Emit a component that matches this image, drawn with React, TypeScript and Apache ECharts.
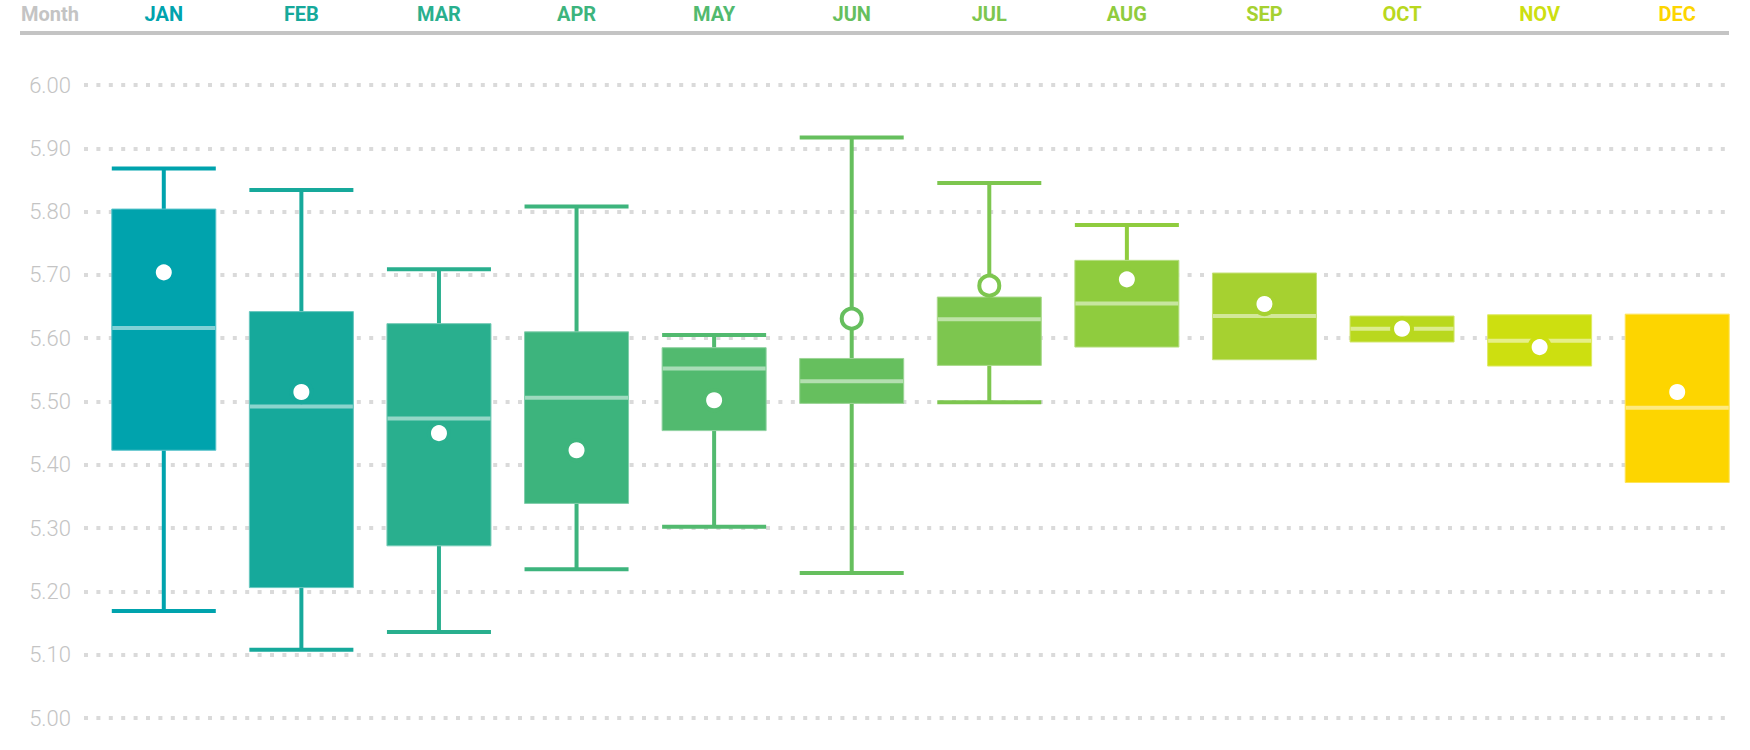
import React, { useEffect, useRef } from "react";
import * as echarts from "echarts";

const months = ["JAN", "FEB", "MAR", "APR", "MAY", "JUN", "JUL", "AUG", "SEP", "OCT", "NOV", "DEC"];
const whiskerLow = [5.169, 5.108, 5.136, 5.235, 5.302, 5.229, 5.499, 5.586, 5.566, 5.594, 5.556, 5.372];
const q1 = [5.423, 5.206, 5.272, 5.339, 5.454, 5.497, 5.557, 5.586, 5.566, 5.594, 5.556, 5.372];
const median = [5.616, 5.492, 5.473, 5.506, 5.552, 5.532, 5.630, 5.655, 5.635, 5.615, 5.596, 5.490];
const q3 = [5.804, 5.642, 5.623, 5.610, 5.585, 5.568, 5.665, 5.723, 5.703, 5.635, 5.637, 5.638];
const whiskerHigh = [5.868, 5.834, 5.709, 5.808, 5.605, 5.917, 5.845, 5.779, 5.703, 5.635, 5.637, 5.638];
const mean = [5.704, 5.515, 5.450, 5.423, 5.502, 5.631, 5.683, 5.693, 5.654, 5.615, 5.586, 5.515];
const yTicks = { min: 5, max: 6, interval: 0.1 };
const colors = [
  "#00A3AD", "#16A99B", "#29AF8E", "#3DB47D", "#52BA6F", "#66BF5E",
  "#7DC64F", "#8FCC3E", "#A6D130", "#B9D81E", "#CDDF10", "#FDD500",
];

function mix(hex: string, t: number): string {
  const n = parseInt(hex.slice(1), 16);
  const r = (n >> 16) & 255, g = (n >> 8) & 255, b = n & 255;
  const f = (c: number) => Math.round(c + (255 - c) * t);
  return `rgb(${f(r)},${f(g)},${f(b)})`;
}

export default function App() {
  const ref = useRef<HTMLDivElement>(null);
  useEffect(() => {
    if (!ref.current) return;
    const chart = echarts.init(ref.current, null, { renderer: "svg" });
    const boxData = months.map((_, i) => [i, whiskerLow[i], q1[i], median[i], q3[i], whiskerHigh[i]]);
    const meanData = months.map((_, i) => ({
      value: [i, mean[i]],
      itemStyle: { color: "#ffffff", borderColor: colors[i], borderWidth: 4, opacity: 1 },
    }));
    const option: any = {
      animation: false,
      backgroundColor: "#ffffff",
      grid: [
        { left: 95, right: 4, top: 85, bottom: 32 },
        { left: 84, right: 21, top: 85, bottom: 32 },
      ],
      xAxis: [
        {
          gridIndex: 0,
          type: "category",
          data: months,
          position: "top",
          boundaryGap: true,
          axisLine: { show: false },
          axisTick: { show: false },
          splitLine: { show: false },
          axisLabel: {
            margin: 71,
            verticalAlign: "middle",
            fontFamily: "Roboto",
            fontWeight: "bold",
            fontSize: 20,
            color: (_v: any, i: number) => colors[i],
          },
        },
        { gridIndex: 1, type: "value", show: false, min: 0, max: 1 },
      ],
      yAxis: [
        { gridIndex: 0, type: "value", min: yTicks.min, max: yTicks.max, interval: yTicks.interval, show: false, splitLine: { show: false } },
        {
          gridIndex: 1,
          type: "value",
          min: yTicks.min,
          max: yTicks.max,
          interval: yTicks.interval,
          axisLine: { show: false },
          axisTick: { show: false },
          axisLabel: {
            margin: 13,
            formatter: (v: number) => v.toFixed(2),
            fontFamily: "Roboto",
            fontWeight: 300,
            fontSize: 22,
            color: "#c4c4c4",
          },
          splitLine: { show: true, lineStyle: { type: [4, 8.4], width: 4, color: "#dadada", cap: "butt" } },
        },
      ],
      graphic: [
        {
          type: "text",
          x: 21,
          y: 14,
          style: {
            text: "Month",
            fontFamily: "Roboto",
            fontWeight: "bold",
            fontSize: 20,
            fill: "#c4c4c4",
            align: "left",
            verticalAlign: "middle",
          },
        },
        {
          type: "line",
          shape: { x1: 20, y1: 33, x2: 1729, y2: 33 },
          style: { stroke: "#c4c4c4", lineWidth: 4 },
        },
      ],
      series: [
        {
          type: "custom",
          xAxisIndex: 0,
          yAxisIndex: 0,
          data: boxData,
          encode: { x: 0, y: [1, 2, 3, 4, 5] },
          z: 3,
          renderItem: (params: any, api: any) => {
            const i = api.value(0);
            const c = colors[params.dataIndex];
            const pLo = api.coord([i, api.value(1)]);
            const pQ1 = api.coord([i, api.value(2)]);
            const pMed = api.coord([i, api.value(3)]);
            const pQ3 = api.coord([i, api.value(4)]);
            const pHi = api.coord([i, api.value(5)]);
            const w = api.size([1, 0])[0] * 0.756;
            const cx = pMed[0];
            const children: any[] = [];
            if (api.value(5) > api.value(4)) {
              children.push({ type: "line", shape: { x1: cx, y1: pQ3[1], x2: cx, y2: pHi[1] }, style: { stroke: c, lineWidth: 4 } });
              children.push({ type: "line", shape: { x1: cx - w / 2, y1: pHi[1], x2: cx + w / 2, y2: pHi[1] }, style: { stroke: c, lineWidth: 4 } });
            }
            if (api.value(1) < api.value(2)) {
              children.push({ type: "line", shape: { x1: cx, y1: pQ1[1], x2: cx, y2: pLo[1] }, style: { stroke: c, lineWidth: 4 } });
              children.push({ type: "line", shape: { x1: cx - w / 2, y1: pLo[1], x2: cx + w / 2, y2: pLo[1] }, style: { stroke: c, lineWidth: 4 } });
            }
            children.push({
              type: "rect",
              shape: { x: cx - w / 2, y: pQ3[1], width: w, height: pQ1[1] - pQ3[1] },
              style: { fill: c, stroke: mix(c, 0.35), lineWidth: 1 },
            });
            children.push({
              type: "line",
              shape: { x1: cx - w / 2 + 0.5, y1: pMed[1], x2: cx + w / 2 - 0.5, y2: pMed[1] },
              style: { stroke: mix(c, 0.5), lineWidth: 4 },
            });
            return { type: "group", children };
          },
        },
        {
          type: "scatter",
          xAxisIndex: 0,
          yAxisIndex: 0,
          data: meanData,
          symbol: "circle",
          symbolSize: 20,
          itemStyle: { opacity: 1 },
          emphasis: { disabled: true },
          z: 5,
        },
      ],
    };
    chart.setOption(option);
    return () => chart.dispose();
  }, []);
  return <div ref={ref} style={{ position: "fixed", left: 0, top: 0, width: 1750, height: 750 }} />;
}
